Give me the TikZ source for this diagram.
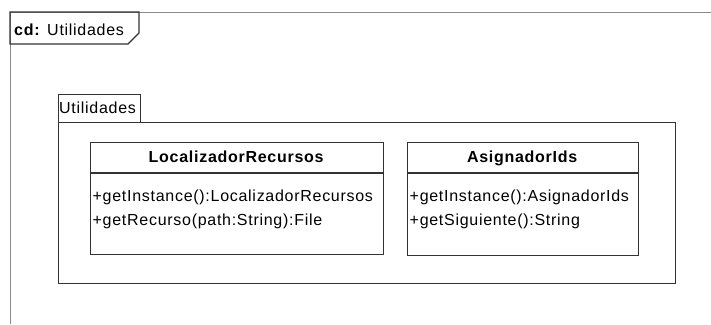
\documentclass[tikz,border=0pt]{standalone}
\usepackage{fontspec}
\setmainfont{Liberation Sans}
\newfontfamily\umlfont[LetterSpace=4.5]{Liberation Sans}
\tikzset{
  frameline/.style={draw=black!45, line width=1pt},
  boxline/.style={draw=black!80, line width=1.1pt},
  txt/.style={inner sep=0pt, font=\umlfont\fontsize{16}{19}\selectfont, text=black},
  boxnode/.style={boxline, rectangle, inner sep=0pt, anchor=north west},
}
\begin{document}
\begin{tikzpicture}[x=1pt,y=-1pt]
\useasboundingbox (0,0) rectangle (711,324);
% diagram frame
\coordinate (f0) at (10,324);
\coordinate (f1) at (10,12);
\coordinate (f2) at (711,12);
\draw[frameline] (f0) -- (f1) -- (f2);
\coordinate (t1) at (139,12);
\coordinate (t2) at (139,33);
\coordinate (t3) at (128,44);
\coordinate (t4) at (10,44);
\draw[boxline] (f1) -- (t1) -- (t2) -- (t3) -- (t4) -- cycle;
\node[txt, anchor=base west] (title) at (14,35) {\textbf{cd:} Utilidades};
% package
\node[boxnode, minimum width=82pt, minimum height=28pt] (ptab) at (58,94) {};
\node[boxnode, minimum width=617pt, minimum height=161pt] (pbody) at (58,122) {};
\node[txt, anchor=base west] (plabel) at (59,113) {Utilidades};
% class 1
\node[boxnode, minimum width=293pt, minimum height=112pt] (c1) at (90,142) {};
\coordinate (c1l) at (90,173);
\coordinate (c1r) at (383,173);
\draw[boxline] (c1l) -- (c1r);
\node[txt, anchor=base] (c1name) at (236.5,162) {\textbf{LocalizadorRecursos}};
\node[txt, anchor=base west] (c1m1) at (92.5,201) {+getInstance():LocalizadorRecursos};
\node[txt, anchor=base west] (c1m2) at (92.5,225) {+getRecurso(path:String):File};
% class 2
\node[boxnode, minimum width=231pt, minimum height=113pt] (c2) at (407,142) {};
\coordinate (c2l) at (407,173);
\coordinate (c2r) at (638,173);
\draw[boxline] (c2l) -- (c2r);
\node[txt, anchor=base] (c2name) at (522.5,162) {\textbf{AsignadorIds}};
\node[txt, anchor=base west] (c2m1) at (409.5,201) {+getInstance():AsignadorIds};
\node[txt, anchor=base west] (c2m2) at (409.5,225) {+getSiguiente():String};
\end{tikzpicture}
\end{document}
